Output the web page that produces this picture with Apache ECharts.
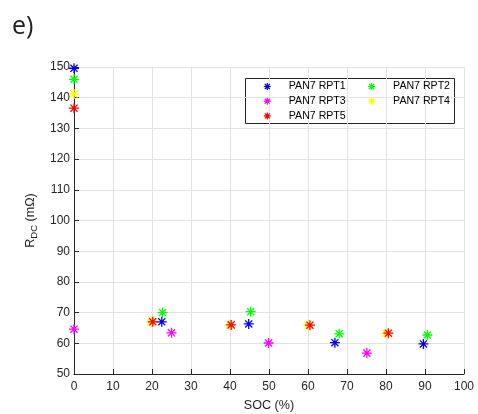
<!DOCTYPE html>
<html><head><meta charset="utf-8">
<script src="https://cdn.jsdelivr.net/npm/echarts@6/dist/echarts.min.js"></script>
<style>html,body{margin:0;padding:0;background:#fff}#c{width:478px;height:414px}</style>
</head><body><div id="c"></div>
<script>
var seriesNames = ['PAN7 RPT1','PAN7 RPT2','PAN7 RPT3','PAN7 RPT4','PAN7 RPT5'];
var colors = ['#0000ff','#00ff00','#ff00ff','#ffff00','#ff0000'];
var rpt1 = [[0,149.6],[22.5,67.0],[44.8,66.3],[66.9,60.2],[89.6,59.8]];
var rpt2 = [[0,146.0],[22.7,70.0],[45.3,70.3],[68.0,63.1],[90.6,62.7]];
var rpt3 = [[0,64.6],[25.0,63.4],[49.9,60.1],[75.1,56.8]];
var rpt4 = [[0,141.2],[19.8,67.0],[40.0,66.0],[60.0,65.9],[80.0,63.3]];
var rpt5 = [[0,136.6],[20.2,67.0],[40.3,66.0],[60.5,65.9],[80.6,63.3]];
var allData = [rpt1, rpt2, rpt3, rpt4, rpt5];

var star = 'path://M0,-1L0,1M-1,0L1,0M-0.71,-0.71L0.71,0.71M-0.71,0.71L0.71,-0.71';
var font = 'Liberation Sans, Arial, sans-serif';
var axisCol = '#262626';

var series = allData.map(function(d, i){
  return {
    name: seriesNames[i], type: 'scatter', data: d,
    symbol: star, symbolSize: 10,
    itemStyle: {color: 'transparent', borderColor: colors[i], borderWidth: 1.3, opacity: 1},
    emphasis: {disabled: true}
  };
});

function legendItem(i){
  return {name: seriesNames[i], icon: star,
    itemStyle: {color: 'transparent', borderColor: colors[i], borderWidth: 1.2}};
}
var legendCommon = {
  orient: 'vertical', padding: 0, itemGap: 0.7,
  itemWidth: 7, itemHeight: 7,
  textStyle: {fontFamily: font, fontSize: 10.6, color: '#000', lineHeight: 14, padding: [0,0,0,13]},
  selectedMode: false
};

var chart = echarts.init(document.getElementById('c'), null, {renderer: 'canvas'});
chart.setOption({
  animation: false,
  title: {text: 'e)', left: 7, top: 9, textStyle: {fontFamily: 'Open Sans, sans-serif', fontSize: 25, fontWeight: 'normal', color: '#222'}},
  grid: {left: 74, right: 14, top: 67, bottom: 40, containLabel: false, outerBoundsMode: 'none'},
  xAxis: {
    type: 'value', min: 0, max: 100, interval: 10,
    name: 'SOC (%)', nameLocation: 'middle', nameGap: 25,
    nameTextStyle: {fontFamily: font, fontSize: 12.6, color: axisCol},
    axisLine: {onZero: false, lineStyle: {color: axisCol, width: 1}},
    axisTick: {inside: true, length: 5, lineStyle: {color: axisCol}},
    axisLabel: {fontFamily: font, fontSize: 12, color: axisCol, margin: 7},
    splitLine: {show: true, lineStyle: {color: '#e3e3e3', width: 1}}
  },
  yAxis: {
    type: 'value', min: 50, max: 150, interval: 10,
    name: '{r|R}{s|DC}{r| (mΩ)}', nameLocation: 'middle', nameGap: 27, nameRotate: 90,
    nameTextStyle: {
      rich: {
        r: {fontFamily: font, fontSize: 12.6, color: axisCol, lineHeight: 18, verticalAlign: 'middle'},
        s: {fontFamily: font, fontSize: 9.5, color: axisCol, lineHeight: 18, verticalAlign: 'bottom', padding: [8,0,0,0]}
      }
    },
    axisLine: {onZero: false, lineStyle: {color: axisCol, width: 1}},
    axisTick: {inside: true, length: 5, lineStyle: {color: axisCol}},
    axisLabel: {fontFamily: font, fontSize: 12, color: axisCol, margin: 4},
    splitLine: {show: true, lineStyle: {color: '#e3e3e3', width: 1}}
  },
  legend: [
    Object.assign({}, legendCommon, {left: 263.2, top: 79.5, data: [legendItem(0), legendItem(2), legendItem(4)]}),
    Object.assign({}, legendCommon, {left: 367.5, top: 79.5, data: [legendItem(1), legendItem(3)]})
  ],
  graphic: [{
    type: 'rect', shape: {x: 245.5, y: 78.5, width: 209, height: 45},
    style: {fill: '#fff', stroke: '#262626', lineWidth: 1}, z: 0, zlevel: 0
  }],
  series: series
});
</script></body></html>
